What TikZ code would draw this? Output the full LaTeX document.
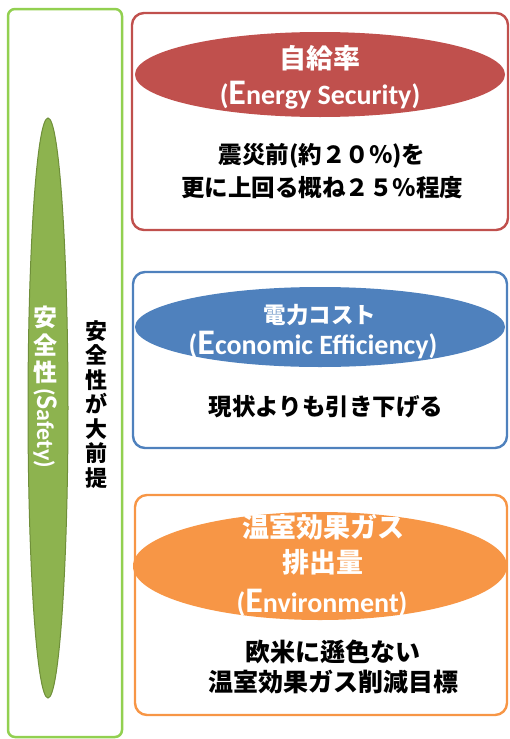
\documentclass[tikz,border=0pt]{standalone}
\usepackage{fontspec}
\setmainfont{Noto Sans CJK JP}
\newfontfamily\latinfont{Carlito}
\usetikzlibrary{shapes.geometric}

\definecolor{safegreen}{HTML}{92D050}
\definecolor{safeolive}{HTML}{8DB34F}
\definecolor{safeoliveline}{HTML}{6F8F3A}
\definecolor{secred}{HTML}{C0504D}
\definecolor{ecoblue}{HTML}{4F81BD}
\definecolor{envorange}{HTML}{F79646}

\newcommand{\bigE}{{\fontsize{36}{36}\selectfont E}}
\newcommand{\bigS}{{\fontsize{30}{30}\selectfont S}}

\tikzset{
	goalbox/.style={draw=#1, line width=2.4pt, rounded corners=12pt, inner sep=0pt},
	goaloval/.style={ellipse, fill=#1, draw=none, inner sep=0pt},
	ovaltext/.style={text=white, align=center, inner sep=0pt},
	bodytext/.style={align=center, inner sep=0pt},
}

\begin{document}
\begin{tikzpicture}[x=1pt, y=-1pt]
	\useasboundingbox (0,0) rectangle (510,739);
	
	% safety frame on the left
	\node[draw=safegreen, line width=2.5pt, rounded corners=7pt, inner sep=0pt,
		minimum width=114pt, minimum height=728pt] (safeframe) at (65,373) {};
	\node[ellipse, fill=safeolive, draw=safeoliveline, line width=1pt, inner sep=0pt,
		minimum width=40pt, minimum height=580pt] (safeoval) at (48,408) {};
	\node[ovaltext, anchor=north, font=\bfseries\fontsize{24}{27.5}\selectfont] (safetext) at (45,306)
		{安\\全\\性\\[-21pt]\rotatebox{-90}{\latinfont\bfseries (\bigS afety)}};
	\node[bodytext, anchor=north, font=\bfseries\fontsize{22}{24.5}\selectfont] (premise) at (96,320)
		{安\\全\\性\\が\\大\\前\\提};
	
	% energy security
	\node[goalbox=secred, minimum width=376pt, minimum height=217pt] (redbox) at (320,121.5) {};
	\node[goaloval=secred, minimum width=370pt, minimum height=85pt] (redoval) at (320,74.5) {};
	\node[ovaltext, font=\bfseries\fontsize{27}{27}\selectfont] (redtitle) at (320,58) {自給率};
	\node[ovaltext, font=\latinfont\bfseries\fontsize{28}{28}\selectfont] (redsub) at (320,95) {(\bigE nergy Security)};
	\node[bodytext, font=\bfseries\fontsize{23.5}{33}\selectfont] (redgoal) at (322,171)
		{震災前(約２０％)を\\更に上回る概ね２５％程度};
	
	% economic efficiency
	\node[goalbox=ecoblue, minimum width=374pt, minimum height=176pt] (bluebox) at (320,360) {};
	\node[goaloval=ecoblue, minimum width=370pt, minimum height=80pt] (blueoval) at (320,327) {};
	\node[ovaltext, font=\bfseries\fontsize{22.5}{22.5}\selectfont] (bluetitle) at (320,315) {電力コスト};
	\node[ovaltext, font=\latinfont\bfseries\fontsize{28}{28}\selectfont] (bluesub) at (313,345) {(\bigE conomic Efficiency)};
	\node[bodytext, font=\bfseries\fontsize{23.5}{33}\selectfont] (bluegoal) at (326,407)
		{現状よりも引き下げる};
	
	% environment
	\node[goalbox=envorange, minimum width=372pt, minimum height=220pt] (orangebox) at (321,605) {};
	\node[goaloval=envorange, minimum width=374pt, minimum height=108pt] (orangeoval) at (320,566) {};
	\node[ovaltext, font=\bfseries\fontsize{27}{35}\selectfont] (orangetitle) at (323,545) {温室効果ガス\\排出量};
	\node[ovaltext, font=\latinfont\bfseries\fontsize{28}{28}\selectfont] (orangesub) at (322,603) {(\bigE nvironment)};
	\node[bodytext, font=\bfseries\fontsize{25}{30}\selectfont] (orangegoal) at (333,667)
		{欧米に遜色ない\\温室効果ガス削減目標};
\end{tikzpicture}
\end{document}
